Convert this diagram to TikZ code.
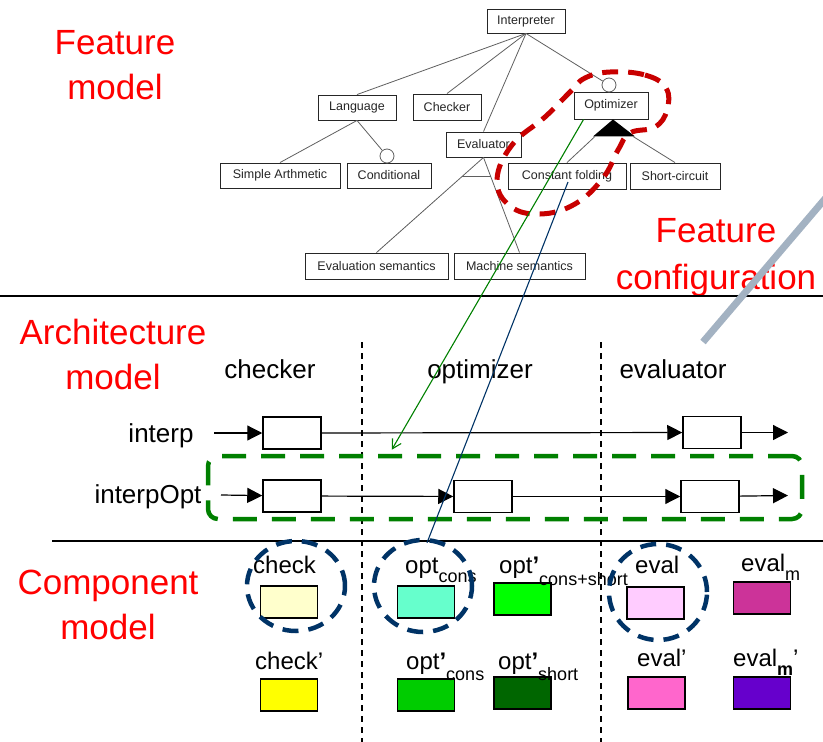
\documentclass[tikz,border=0pt]{standalone}
\usepackage{fontspec}
\setmainfont{Liberation Sans}
\usetikzlibrary{arrows.meta,shapes.geometric,calc}
\definecolor{hlred}{RGB}{200,0,0}
\definecolor{labred}{RGB}{255,0,0}
\definecolor{navy}{RGB}{0,51,102}
\definecolor{fgreen}{RGB}{0,128,0}
\definecolor{steel}{RGB}{163,178,194}
\definecolor{fmline}{RGB}{95,95,95}
\definecolor{cA}{RGB}{255,255,204}
\definecolor{cB}{RGB}{255,255,0}
\definecolor{cC}{RGB}{102,255,204}
\definecolor{cD}{RGB}{0,255,0}
\definecolor{cE}{RGB}{0,204,0}
\definecolor{cF}{RGB}{0,102,0}
\definecolor{cG}{RGB}{255,204,255}
\definecolor{cH}{RGB}{204,51,153}
\definecolor{cI}{RGB}{255,102,204}
\definecolor{cJ}{RGB}{102,0,204}
\newcommand\lowsub[2]{\raisebox{-#1pt}{\fontsize{18}{18}\selectfont #2}}
\tikzset{
  fmbox/.style={draw=black!85, line width=0.9pt, fill=white, inner sep=0pt,
    minimum height=25, font=\fontsize{12.5}{14}\selectfont, text=black!85},
  fmedge/.style={draw=fmline, line width=0.8pt},
  fmdot/.style={circle, draw=fmline, line width=0.8pt, fill=white, minimum size=14, inner sep=0pt},
  redlab/.style={text=labred, align=center, font=\fontsize{35}{45}\selectfont, inner sep=0pt},
  blab/.style={font=\fontsize{26}{30}\selectfont, inner sep=0pt},
  clab/.style={font=\fontsize{24}{28}\selectfont, inner sep=0pt, anchor=base west},
  abox/.style={draw, line width=1.5pt, fill=white, minimum width=58, minimum height=32, inner sep=0pt},
  flow/.style={line width=1.2pt, -{Triangle[length=15pt,width=15pt]}},
  cbox/.style={draw, line width=1.4pt, minimum width=57, minimum height=32, inner sep=0pt},
  pick/.style={ellipse, draw=navy, line width=4.5pt, dash pattern=on 16pt off 10pt,
    minimum width=98, minimum height=90, inner sep=0pt},
  sep/.style={line width=1.5pt},
  colsep/.style={line width=1.1pt, dash pattern=on 6pt off 5pt},
}
\begin{document}
\begin{tikzpicture}[x=1pt,y=-1pt]
\useasboundingbox (0,0) rectangle (823,742);

% ---------- section labels ----------
\node[redlab] (lfm) at (115,65) {Feature\\model};
\node[redlab] (lam) at (113,354) {Architecture\\model};
\node[redlab] (lcm) at (108,605) {Component\\model};
\node[redlab, font=\fontsize{35}{47}\selectfont] (lfc) at (716,258) {Feature\\configuration};

% ---------- feature model ----------
\node[fmbox, minimum width=78, minimum height=24] (interp) at (526,21) {Interpreter};
\node[fmbox, minimum width=78] (lang) at (357,107.5) {Language};
\node[fmbox, minimum width=68, minimum height=26] (chk) at (447,107) {Checker};
\node[fmbox, minimum width=74, minimum height=27] (opt) at (611,105.5) {Optimizer};
\node[fmbox, minimum width=75] (evl) at (483.5,144.5) {Evaluator};
\node[fmbox, minimum width=120] (simple) at (280,175.5) {Simple Arthmetic};
\node[fmbox, minimum width=84] (cond) at (389,175.5) {Conditional};
\node[fmbox, minimum width=118, minimum height=26] (cf) at (567,176) {Constant folding};
\node[fmbox, minimum width=90, minimum height=26] (sc) at (675,176) {Short-circuit};
\node[fmbox, minimum width=143, minimum height=26] (evs) at (376.5,266) {Evaluation semantics};
\node[fmbox, minimum width=131, minimum height=26] (ms) at (519.5,266) {Machine semantics};

\node[fmdot] (optdot) at (609,85) {};
\node[fmdot] (conddot) at (387,156) {};

\draw[fmedge] (interp.south) -- (lang.north);
\draw[fmedge] (interp.south) -- (chk.north);
\draw[fmedge] (interp.south) -- (evl.north);
\draw[fmedge] (interp.south) -- (optdot);
\draw[fmedge] (lang.south) -- (simple.north);
\draw[fmedge] (lang.south) -- (conddot);
\draw[fmedge] (evl.south) -- coordinate[pos=0.2] (xl) (evs.north);
\draw[fmedge] (evl.south) -- coordinate[pos=0.2] (xr) (ms.north);
\draw[fmedge] (xl) -- (xr);

% or-group of the optimizer
\coordinate (tri) at ($(opt.south)+(2,0)$);
\fill (tri) -- ++(-20,17) coordinate (tril) -- ++(42,0) coordinate (trir) -- cycle;
\draw[fmedge] ($(tril)+(2,0)$) -- (cf.north);
\draw[fmedge] ($(trir)+(-2,0)$) -- (sc.north);

% selected features
\draw[hlred, line width=5pt, dash pattern=on 16pt off 10pt]
  plot[smooth cycle, tension=0.7] coordinates {(610,72) (645,75) (666,88) (667,110)
  (655,127) (630,133) (618,150) (603,178) (575,204) (540,214) (510,206) (497,180)
  (512,145) (545,117) (570,92) (585,78)};

% ---------- separators ----------
\draw[sep] (0,296) -- (823,296);
\draw[sep] (52,541) -- (823,541);
\draw[colsep] (362,342) -- (362,742);
\draw[colsep] (601,342) -- (601,742);

% ---------- architecture model ----------
\node[blab, anchor=base] (hchk) at (270,378) {checker};
\node[blab, anchor=base] (hopt) at (480,378) {optimizer};
\node[blab, anchor=base] (hevl) at (673,378) {evaluator};
\node[blab, anchor=base] (ninterp) at (161,442) {interp};
\node[blab, anchor=base] (ninterpopt) at (148,503) {interpOpt};

\node[draw=fgreen, line width=4.5pt, dash pattern=on 24pt off 15pt, rounded corners=10pt,
  minimum width=594, minimum height=63, inner sep=0pt] (optframe) at (505,487.5) {};

\node[abox] (a1) at (292,433) {};
\node[abox] (a2) at (712,432.5) {};
\node[abox] (b1) at (292,496) {};
\node[abox] (b2) at (483,496.5) {};
\node[abox] (b3) at (710,496.5) {};
\coordinate (ina) at (214,433);
\coordinate (outa) at (788,432.5);
\coordinate (inb) at (221,495);
\coordinate (outb) at (788,495.5);
\draw[flow] (ina) -- (a1);
\draw[flow] (a1) -- (a2);
\draw[flow] (a2) -- (outa);
\draw[flow] (inb) -- (b1);
\draw[flow] (b1) -- (b2);
\draw[flow] (b2) -- (b3);
\draw[flow] (b3) -- (outb);

% ---------- component model ----------
\node[cbox, fill=cA] (kcheck) at (289,602) {};
\node[cbox, fill=cC] (kopt) at (426,602) {};
\node[cbox, fill=cD] (koptcs) at (522.5,599) {};
\node[cbox, fill=cG] (keval) at (655.5,603) {};
\node[cbox, fill=cH] (kevalm) at (762,598) {};
\node[cbox, fill=cB] (kcheckp) at (289,695) {};
\node[cbox, fill=cE] (koptc) at (426,695) {};
\node[cbox, fill=cF] (kopts) at (522.5,693) {};
\node[cbox, fill=cI] (kevalp) at (656.5,693) {};
\node[cbox, fill=cJ] (kevalmp) at (762,693) {};

\node[clab] (lcheck) at (253,573) {check};
\node[clab] (lopt) at (405,573) {opt\lowsub{9}{cons}};
\node[clab] (loptcs) at (499,573) {opt\textbf{’}\lowsub{12}{cons+short}};
\node[clab] (leval) at (635,573) {eval};
\node[clab] (levalm) at (741,571) {eval\lowsub{9}{m}};
\node[clab] (lcheckp) at (255,669) {check’};
\node[clab] (loptc) at (406,669) {opt\textbf{’}\lowsub{11}{cons}};
\node[clab] (lopts) at (498,669) {opt\textbf{’}\lowsub{11}{short}};
\node[clab] (levalp) at (637,666) {eval’};
\node[clab] (levalmp) at (733,666) {eval\lowsub{9}{\textbf{m}}’};

\node[pick] (pcheck) at (296,586) {};
\node[pick, minimum height=92] (popt) at (423,586) {};
\node[pick, minimum height=96] (peval) at (658,592) {};

% ---------- traces from features ----------
\draw[fgreen, line width=1.1pt, -{Straight Barb[length=9pt,width=10pt]}]
  ($(opt.south west)+(10,0)$) -- ($(optframe.north west)+(186,-4)$);
\draw[navy, line width=1.1pt] ($(cf.center)+(1,6)$) -- ($(popt.north)+(4,5)$);

% configuration slash
\draw[steel, line width=7pt] (703,342) -- (830,193);
\end{tikzpicture}
\end{document}
